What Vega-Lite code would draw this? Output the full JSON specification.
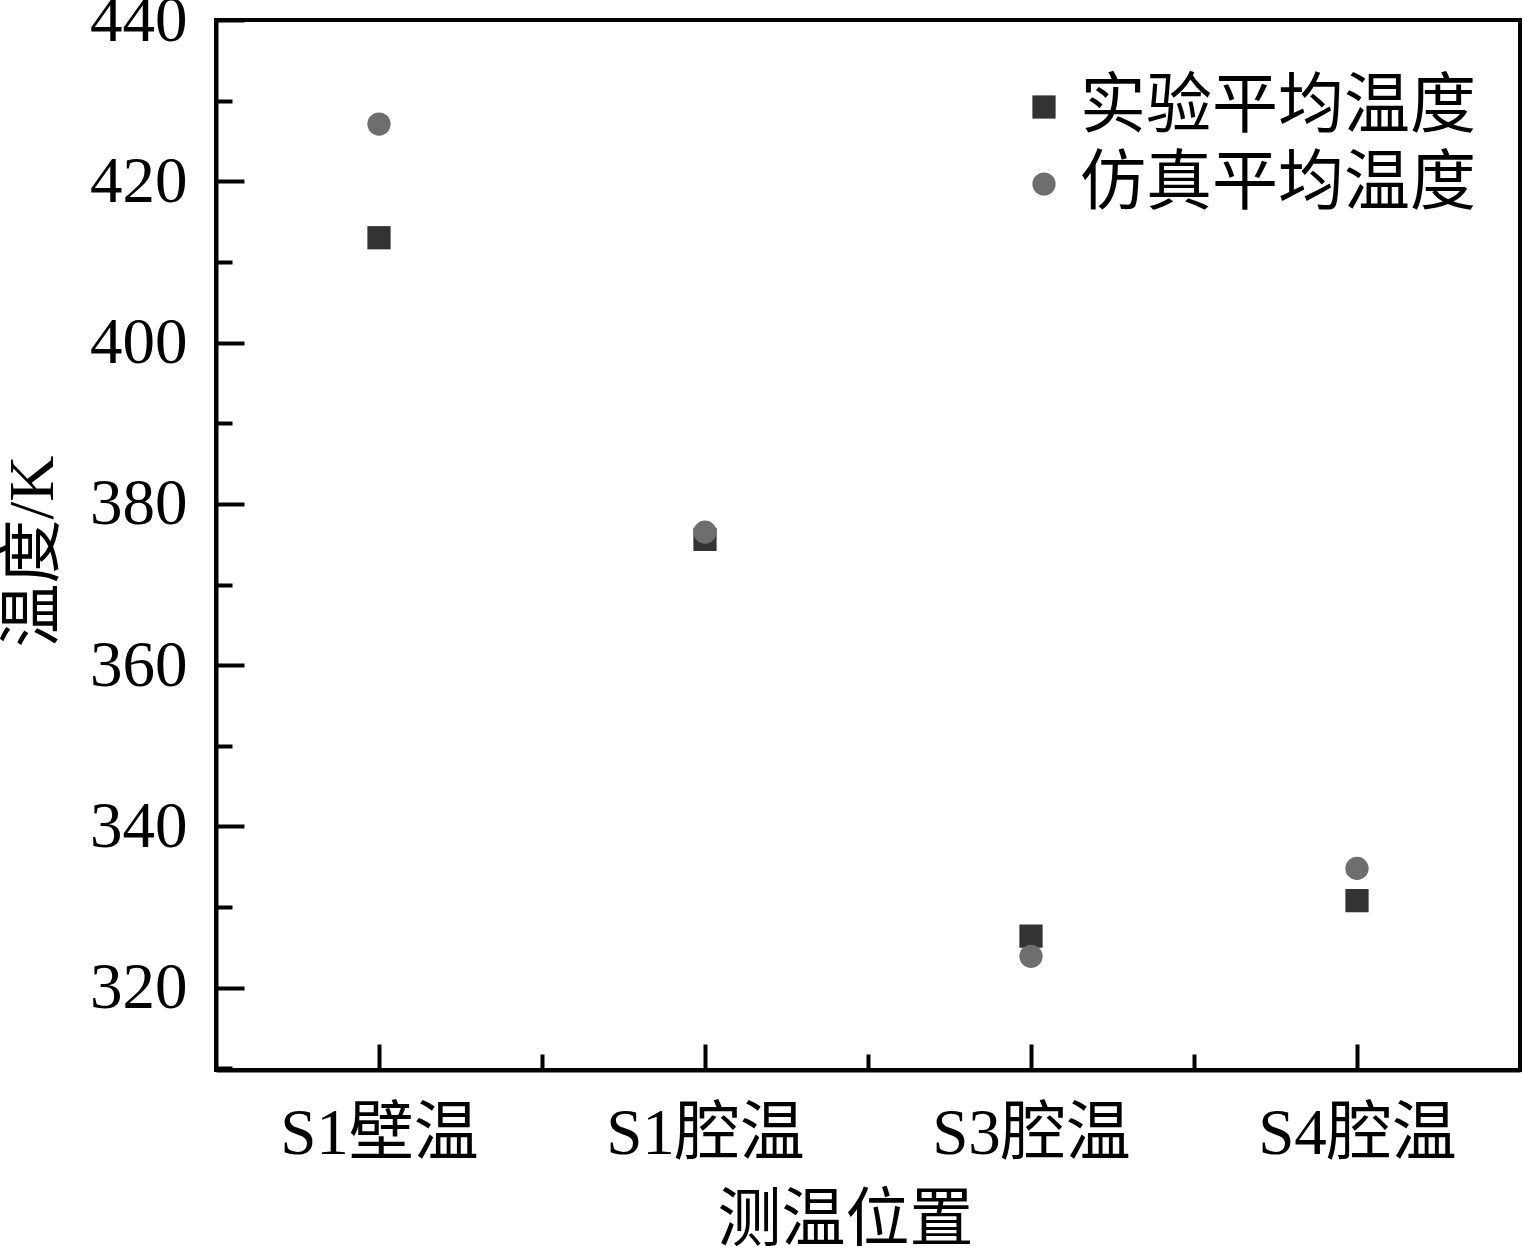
{
  "$schema": "https://vega.github.io/schema/vega-lite/v6.json",
  "width": 1304,
  "height": 1050,
  "autosize": "none",
  "padding": {"left": 216, "top": 20, "right": 4, "bottom": 186},
  "background": "white",
  "config": {
    "font": "Liberation Serif, Noto Sans CJK SC",
    "view": {"stroke": "black", "strokeWidth": 4},
    "axis": {
      "domainColor": "black",
      "domainWidth": 4,
      "tickColor": "black",
      "tickWidth": 4,
      "labelColor": "black",
      "titleColor": "black",
      "labelFont": "Liberation Serif, Noto Sans CJK SC",
      "titleFont": "Liberation Serif, Noto Sans CJK SC",
      "labelFontSize": 65,
      "titleFontSize": 64,
      "titleFontWeight": "normal",
      "labelLimit": 0,
      "grid": false
    }
  },
  "data": {
    "values": [
      {"序号": 1, "位置": "S1壁温", "类型": "实验平均温度", "温度": 413.0},
      {"序号": 2, "位置": "S1腔温", "类型": "实验平均温度", "温度": 375.6},
      {"序号": 3, "位置": "S3腔温", "类型": "实验平均温度", "温度": 326.4},
      {"序号": 4, "位置": "S4腔温", "类型": "实验平均温度", "温度": 330.8},
      {"序号": 1, "位置": "S1壁温", "类型": "仿真平均温度", "温度": 427.1},
      {"序号": 2, "位置": "S1腔温", "类型": "仿真平均温度", "温度": 376.5},
      {"序号": 3, "位置": "S3腔温", "类型": "仿真平均温度", "温度": 323.9},
      {"序号": 4, "位置": "S4腔温", "类型": "仿真平均温度", "温度": 334.8}
    ]
  },
  "mark": {"type": "point", "filled": true, "size": 540, "opacity": 1},
  "encoding": {
    "x": {
      "field": "序号",
      "type": "quantitative",
      "scale": {"domain": [0.5, 4.5], "nice": false, "zero": false},
      "axis": {
        "title": "测温位置",
        "values": [1, 1.5, 2, 2.5, 3, 3.5, 4],
        "labelExpr": "datum.value == 1 ? 'S1壁温' : datum.value == 2 ? 'S1腔温' : datum.value == 3 ? 'S3腔温' : datum.value == 4 ? 'S4腔温' : ''",
        "tickSize": {"condition": {"test": "datum.value % 1 === 0", "value": -26}, "value": -16},
        "labelPadding": 58,
        "labelFlush": false,
        "titleX": 629,
        "titleY": 118,
        "titleBaseline": "top"
      }
    },
    "y": {
      "field": "温度",
      "type": "quantitative",
      "scale": {"domain": [309.8, 440], "nice": false, "zero": false},
      "axis": {
        "title": "温度/K",
        "values": [310, 320, 330, 340, 350, 360, 370, 380, 390, 400, 410, 420, 430, 440],
        "labelExpr": "datum.value % 20 === 0 ? datum.label : ''",
        "tickSize": {"condition": {"test": "datum.value % 20 === 0", "value": -28}, "value": -16},
        "labelPadding": 57,
        "labelFlush": false,
        "titleX": -183,
        "titleY": 531,
        "titleBaseline": "middle",
        "titleAlign": "center",
        "titleAngle": -90
      }
    },
    "color": {
      "field": "类型",
      "type": "nominal",
      "scale": {"domain": ["实验平均温度", "仿真平均温度"], "range": ["#333333", "#6e6e6e"]},
      "legend": {
        "title": null,
        "orient": "none",
        "legendX": 795,
        "legendY": 54,
        "labelFontSize": 66,
        "labelFont": "Liberation Serif, Noto Sans CJK SC",
        "labelColor": "black",
        "labelLimit": 0,
        "symbolSize": 540,
        "labelOffset": 3,
        "rowPadding": 11
      }
    },
    "shape": {
      "field": "类型",
      "type": "nominal",
      "scale": {"domain": ["实验平均温度", "仿真平均温度"], "range": ["square", "circle"]}
    }
  }
}
